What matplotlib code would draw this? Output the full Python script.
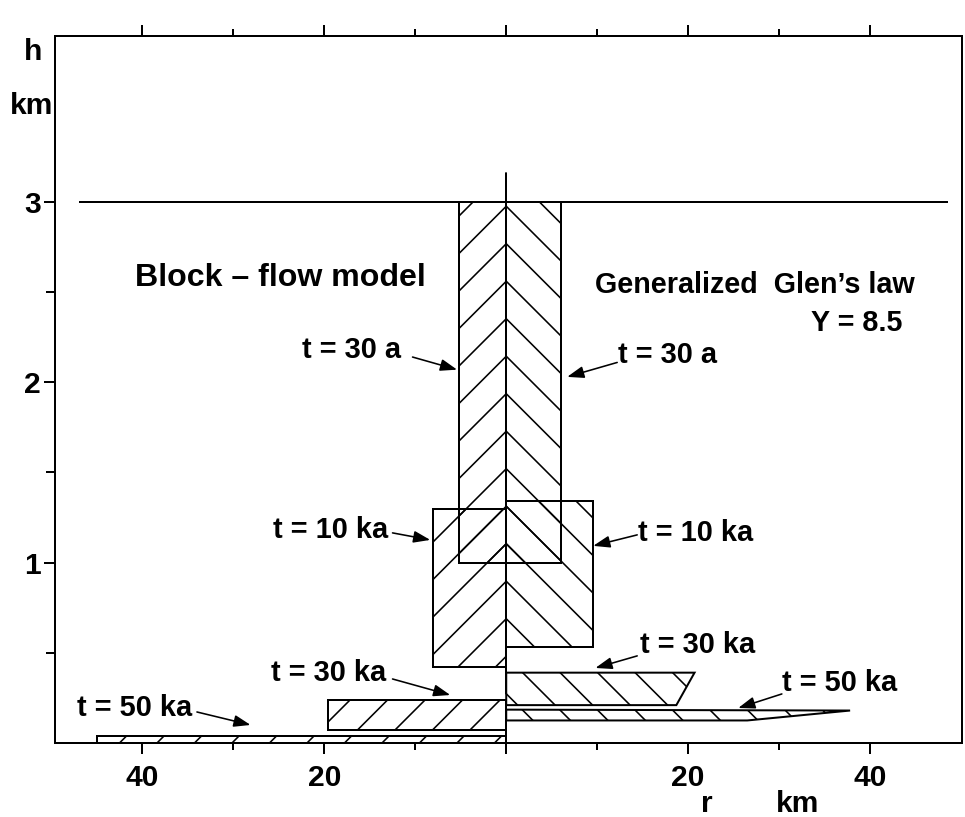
import matplotlib
matplotlib.use("Agg")
import matplotlib.pyplot as plt

# hatch cell size follows the dpi in Agg, so dpi sets the hatch spacing (~37 px)
DPI = 225
PX = 72.0 / DPI  # one pixel in points

plt.rcParams["font.family"] = ["Liberation Sans", "DejaVu Sans"]
plt.rcParams["font.weight"] = "bold"
plt.rcParams["hatch.linewidth"] = 1.6 * PX
plt.rcParams["lines.scale_dashes"] = False

# block-flow model (left half, r < 0): rectangles from r_outer to the axis
block_labels = ["t = 30 a", "t = 10 ka", "t = 30 ka", "t = 50 ka"]
block_r_outer = [-5.2, -8.0, -19.6, -45.0]
block_h_bottom = [1.0, 0.42, 0.07, 0.0]
block_h_top = [3.0, 1.30, 0.24, 0.04]

# generalized Glen's law (right half, r > 0): outline polygons
glen_labels = ["t = 30 a", "t = 10 ka", "t = 30 ka", "t = 50 ka"]
glen_r = [[0, 6.0, 6.0, 0], [0, 9.5, 9.5, 0], [0, 18.7, 20.7, 0], [0, 26.5, 37.8, 0]]
glen_h = [[1.0, 1.0, 3.0, 3.0], [0.53, 0.53, 1.34, 1.34],
          [0.21, 0.21, 0.39, 0.39], [0.125, 0.125, 0.18, 0.185]]

surface_h = 3.0
surface_r = [-46.9, 48.5]
axis_top_h = 3.19

# label anchor (left, middle), arrow tail, arrow tip
block_text_xy = [(-22.4, 2.18), (-25.6, 1.18), (-25.9, 0.39), (-47.2, 0.195)]
block_arrow_tail = [(-10.3, 2.14), (-12.5, 1.165), (-12.5, 0.355), (-34.0, 0.172)]
block_arrow_tip = [(-5.4, 2.07), (-8.35, 1.126), (-6.15, 0.266), (-28.1, 0.10)]
glen_text_xy = [(12.3, 2.15), (14.5, 1.165), (14.7, 0.545), (30.3, 0.333)]
glen_arrow_tail = [(12.2, 2.11), (14.4, 1.154), (14.4, 0.483), (30.3, 0.272)]
glen_arrow_tip = [(6.7, 2.03), (9.56, 1.093), (9.8, 0.416), (25.5, 0.194)]

x_major = [-40, -20, 0, 20, 40]
x_major_labels = ["40", "20", "", "20", "40"]
x_minor = [-30, -10, 10, 30]
y_major = [1, 2, 3]
y_minor = [0.5, 1.5, 2.5]

LW = 2.0 * PX
FS = 9.3

fig = plt.figure(figsize=(966 / DPI, 817 / DPI), dpi=DPI)
ax = fig.add_axes([55 / 966, 1 - 743 / 817, (962 - 55) / 966, (743 - 36) / 817])

ax.plot(surface_r, [surface_h, surface_h], color="black", lw=LW)

for r0, hb, ht in zip(block_r_outer, block_h_bottom, block_h_top):
    ax.fill([r0, 0, 0, r0], [hb, hb, ht, ht], facecolor="none", edgecolor="black",
            lw=LW, hatch="//")
for rs, hs in zip(glen_r, glen_h):
    ax.fill(rs, hs, facecolor="none", edgecolor="black", lw=LW, hatch="\\\\")

ax.plot([0, 0], [0, axis_top_h], color="black", lw=LW,
        linestyle=(0, (11, 1.8, 1.0, 1.8)))

arrow_kw = dict(arrowstyle="-|>,head_length=0.45,head_width=0.16", color="black",
                lw=1.6 * PX, shrinkA=0, shrinkB=0, mutation_scale=10)
for labels, txy, tails, tips in [(block_labels, block_text_xy, block_arrow_tail, block_arrow_tip),
                                 (glen_labels, glen_text_xy, glen_arrow_tail, glen_arrow_tip)]:
    for lab, (tx, ty), tail, tip in zip(labels, txy, tails, tips):
        ax.text(tx, ty, lab, fontsize=FS, ha="left", va="center")
        ax.annotate("", xy=tip, xytext=tail, arrowprops=arrow_kw)

ax.text(-40.8, 2.58, "Block \u2013 flow model", fontsize=10.3, ha="left", va="center")
ax.text(9.8, 2.54, "Generalized  Glen\u2019s law", fontsize=9.2, ha="left", va="center")
ax.text(43.5, 2.33, "Y = 8.5", fontsize=9.2, ha="right", va="center")

ax.set_xlim(-49.6, 50.1)
ax.set_ylim(0, 3.92)

ax.set_xticks(x_major)
ax.set_xticklabels(x_major_labels)
ax.set_xticks(x_minor, minor=True)
ax.set_yticks(y_major)
ax.set_yticklabels([str(v) for v in y_major])
ax.set_yticks(y_minor, minor=True)

ax.tick_params(axis="x", which="both", direction="out", top=True, bottom=True,
               width=LW, labelsize=9.6, pad=10 * PX)
ax.tick_params(axis="x", which="major", length=11 * PX)
ax.tick_params(axis="x", which="minor", length=7 * PX)
ax.tick_params(axis="y", which="both", direction="out", left=True, right=False,
               width=LW, labelsize=9.6, pad=3 * PX)
ax.tick_params(axis="y", which="major", length=11 * PX)
ax.tick_params(axis="y", which="minor", length=9 * PX)
for sp in ax.spines.values():
    sp.set_linewidth(LW)

fig.text(33 / 966, 1 - 52 / 817, "h", fontsize=9.6, ha="center", va="center")
fig.text(32 / 966, 1 - 106 / 817, "km", fontsize=9.6, ha="center", va="center")
fig.text(707 / 966, 1 - 812 / 817, "r", fontsize=9.6, ha="center", va="baseline")
fig.text(798 / 966, 1 - 812 / 817, "km", fontsize=9.6, ha="center", va="baseline")

fig.savefig("out.png", dpi=DPI, facecolor="white")
plt.close(fig)
